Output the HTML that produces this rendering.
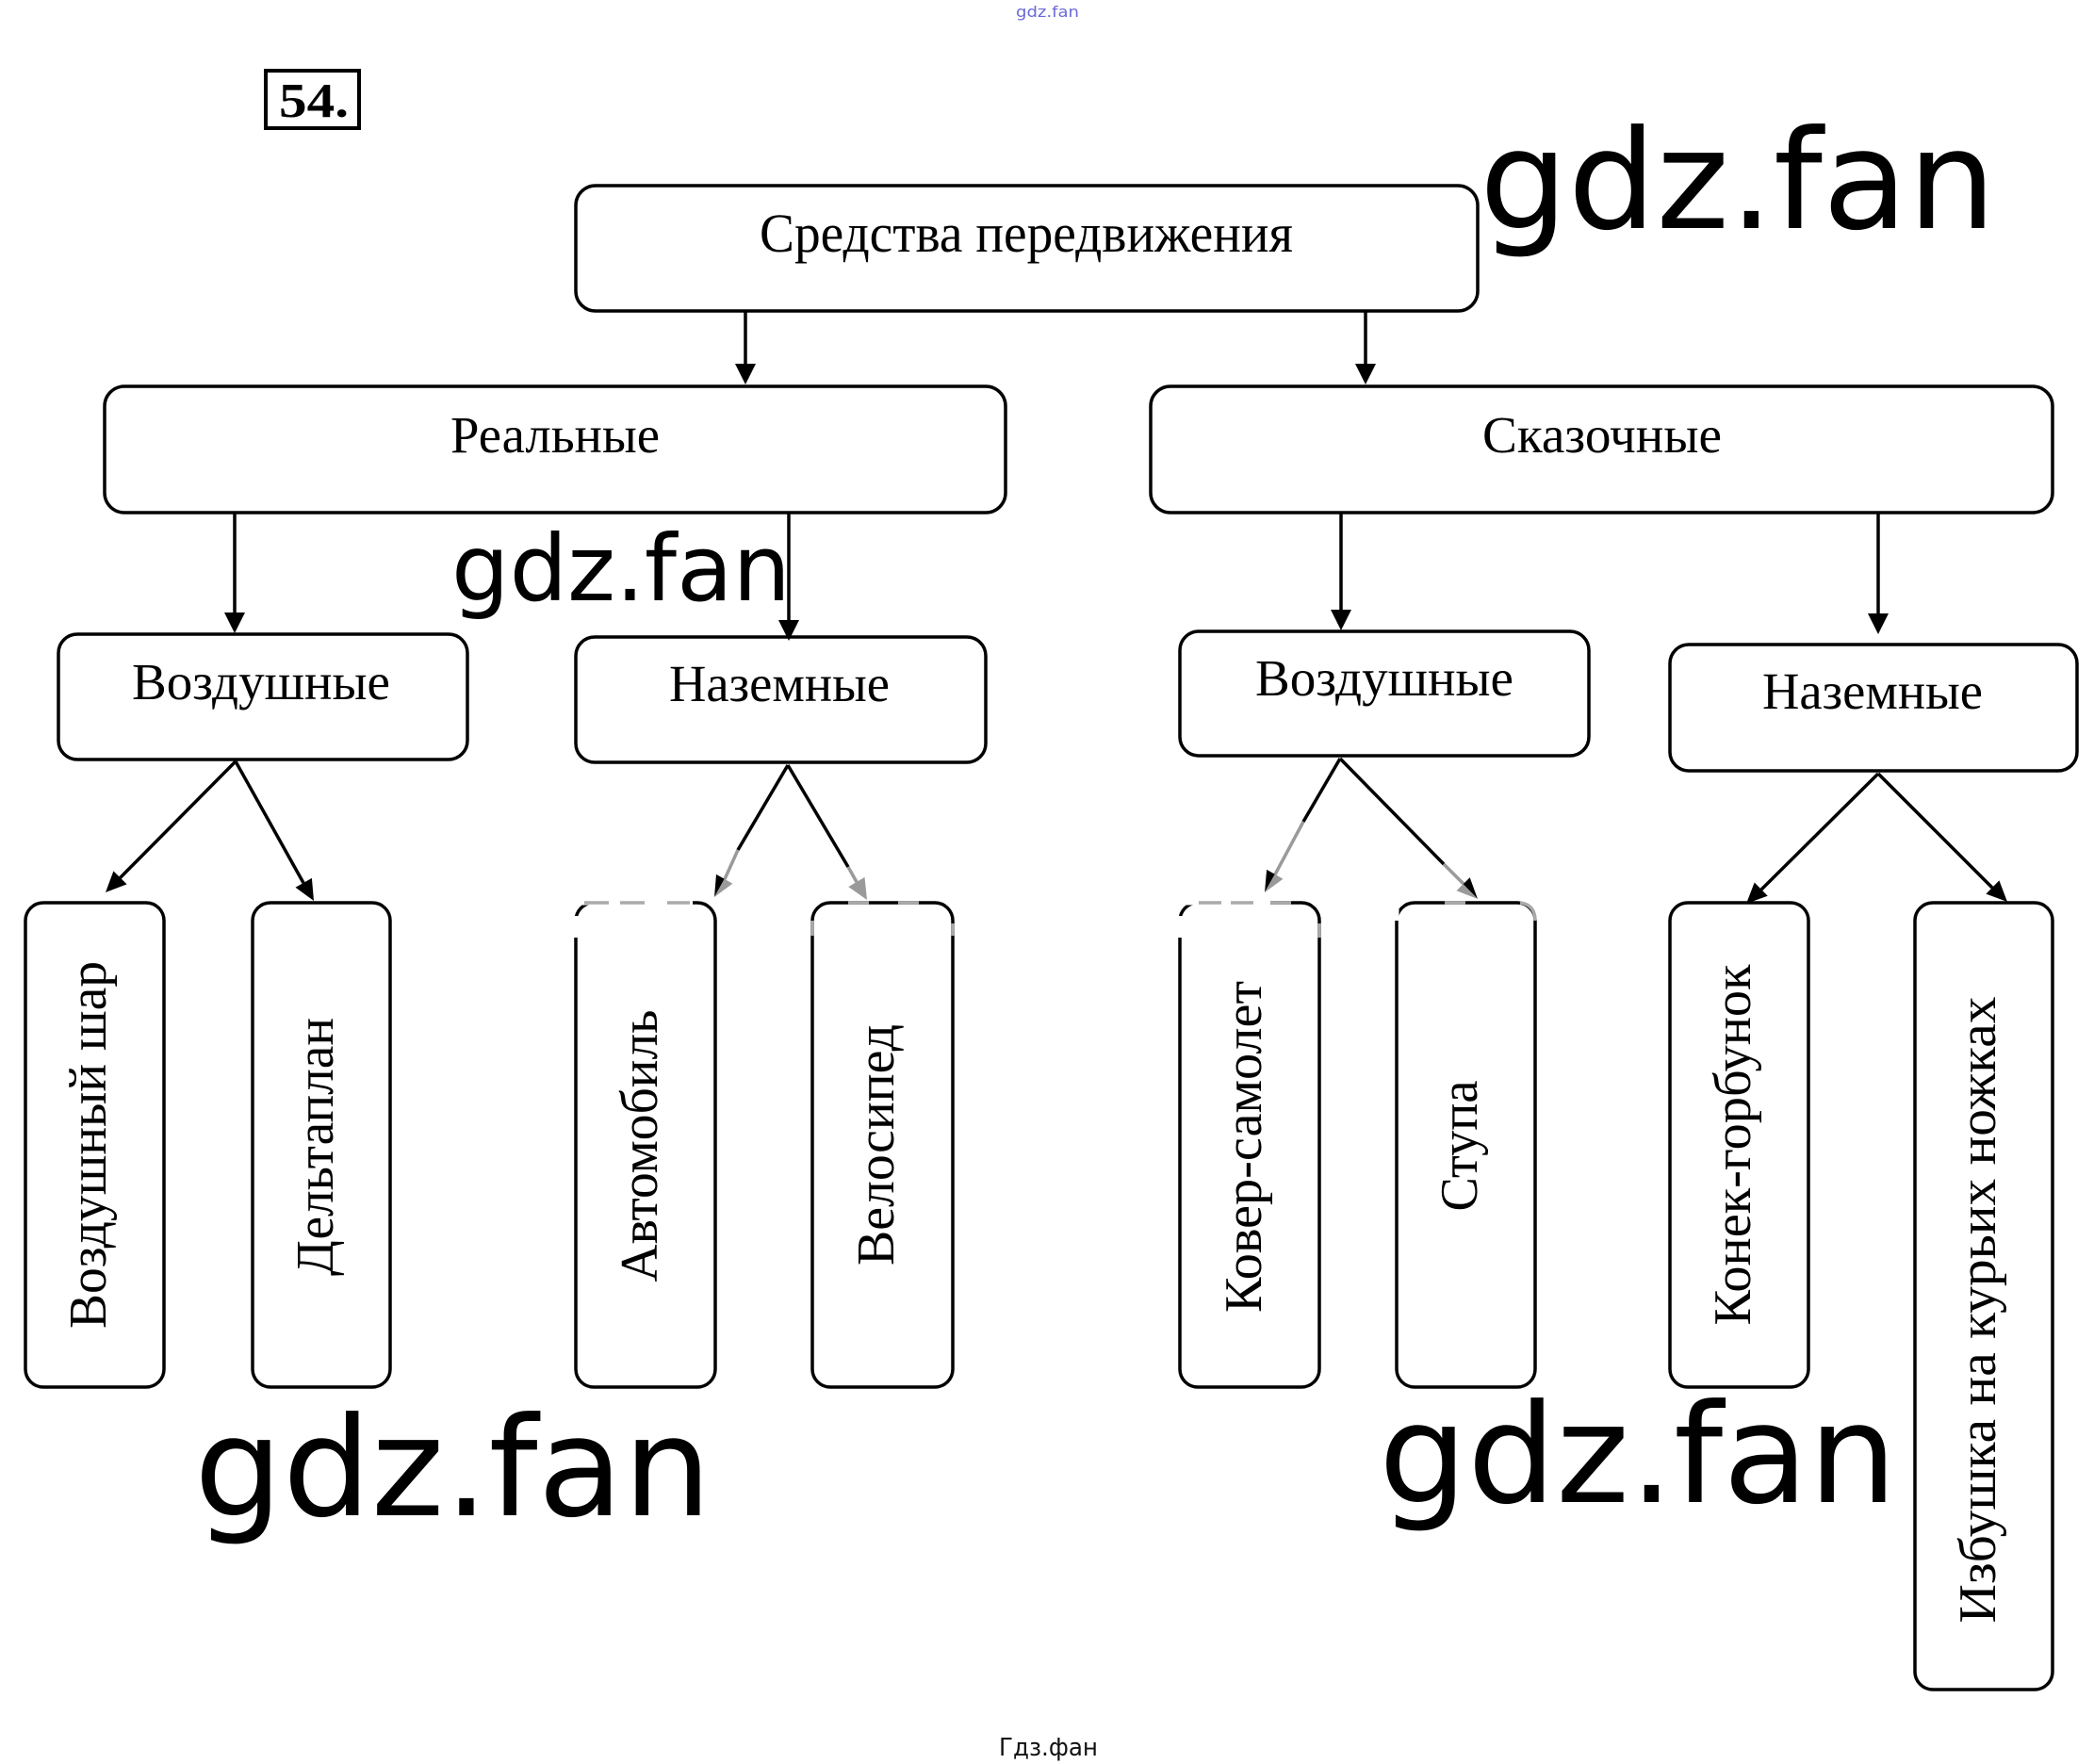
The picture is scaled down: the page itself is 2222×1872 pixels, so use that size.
<!DOCTYPE html>
<html>
<head>
<meta charset="utf-8">
<style>
html,body{margin:0;padding:0;background:#fff;}
svg{display:block;}
.s{font-family:"Liberation Serif","Noto Serif CJK SC",serif;fill:#000;}
.w{font-family:"DejaVu Sans","Liberation Sans",sans-serif;fill:#000;}
</style>
</head>
<body>
<svg width="2222" height="1872" viewBox="0 0 2222 1872" xmlns="http://www.w3.org/2000/svg">
<rect x="0" y="0" width="2222" height="1872" fill="#fff"/>

<!-- tiny top watermark -->
<text class="w" x="1078" y="18" font-size="16" textLength="67" lengthAdjust="spacingAndGlyphs" style="fill:#6a6ad8">gdz.fan</text>

<!-- 54. -->
<rect x="282" y="75" width="99" height="61" fill="none" stroke="#000" stroke-width="4"/>
<text class="s" x="296" y="124" font-size="52" font-weight="bold" textLength="74" lengthAdjust="spacingAndGlyphs">54.</text>

<g fill="none" stroke="#000" stroke-width="3.5">
  <!-- level boxes -->
  <rect x="611" y="197" width="957" height="133" rx="21"/>
  <rect x="111" y="410" width="956" height="134" rx="21"/>
  <rect x="1221" y="410" width="957" height="134" rx="21"/>
  <rect x="62" y="673" width="434" height="133" rx="20"/>
  <rect x="611" y="676" width="435" height="133" rx="20"/>
  <rect x="1252" y="670" width="434" height="132" rx="20"/>
  <rect x="1772" y="684" width="432" height="134" rx="20"/>
  <!-- vertical boxes -->
  <rect x="27" y="958" width="147" height="514" rx="19"/>
  <rect x="268" y="958" width="146" height="514" rx="19"/>
  <rect x="611" y="958" width="148" height="514" rx="19"/>
  <rect x="862" y="958" width="149" height="514" rx="19"/>
  <rect x="1252" y="958" width="148" height="514" rx="19"/>
  <rect x="1482" y="958" width="147" height="514" rx="19"/>
  <rect x="1772" y="958" width="147" height="514" rx="19"/>
  <rect x="2032" y="958" width="146" height="835" rx="19"/>

  <!-- vertical connectors -->
  <line x1="791" y1="330" x2="791" y2="390"/>
  <line x1="1449" y1="330" x2="1449" y2="390"/>
  <line x1="249" y1="544" x2="249" y2="654"/>
  <line x1="837" y1="544" x2="837" y2="662"/>
  <line x1="1423" y1="544" x2="1423" y2="651"/>
  <line x1="1993" y1="544" x2="1993" y2="655"/>

  <!-- diagonal connectors (black parts) -->
  <line x1="250" y1="808" x2="127" y2="932"/>
  <line x1="250" y1="808" x2="322" y2="937"/>
  <line x1="836" y1="812" x2="783" y2="902"/>
  <line x1="836" y1="812" x2="900" y2="920"/>
  <line x1="1422" y1="805" x2="1383" y2="872"/>
  <line x1="1422" y1="805" x2="1532" y2="917"/>
  <line x1="1993" y1="821" x2="1869" y2="944"/>
  <line x1="1993" y1="821" x2="2114" y2="942"/>
</g>

<!-- grey parts of diagonals -->
<g fill="none" stroke="#9a9a9a" stroke-width="3.5">
  <line x1="783" y1="902" x2="769" y2="933"/>
  <line x1="900" y1="920" x2="909" y2="936"/>
  <line x1="1383" y1="872" x2="1353" y2="928"/>
  <line x1="1532" y1="917" x2="1553" y2="938"/>
</g>

<!-- arrowheads -->
<g fill="#000" stroke="none">
  <polygon points="791,408 780,386 802,386"/>
  <polygon points="1449,408 1438,386 1460,386"/>
  <polygon points="249,672 238,650 260,650"/>
  <polygon points="837,680 826,658 848,658"/>
  <polygon points="1423,669 1412,647 1434,647"/>
  <polygon points="1993,673 1982,651 2004,651"/>
  <polygon points="112,947 120.4,924.4 134.6,938.4"/>
  <polygon points="333,956 313.5,941.7 330.9,931.9"/>
  <polygon points="758,952 760,927.9 768.7,932.8"/>
  <polygon points="1342,947 1344.1,922.9 1352.8,927.8"/>
  <polygon points="1568,954 1552.6,938.3 1559.7,931.3"/>
  <polygon points="1853,959 1861.7,936.5 1875.7,950.7"/>
  <polygon points="2130,957 2107.4,948.6 2121.4,934.4"/>
</g>
<g fill="#9a9a9a" stroke="none">
  <polygon points="758,952 768.7,932.8 777.4,937.7"/>
  <polygon points="920,955 900.3,941.1 917.5,930.9"/>
  <polygon points="1342,947 1352.8,927.8 1361.5,932.7"/>
  <polygon points="1568,954 1545.5,945.3 1552.6,938.3"/>
</g>

<!-- top border artifacts (white gaps + grey dashes) -->
<g stroke-width="5" fill="none">
  <!-- Автомобиль -->
  <line x1="614" y1="958" x2="735" y2="958" stroke="#fff"/>
  <line x1="611" y1="972" x2="611" y2="995" stroke="#fff"/>
  <line x1="620" y1="958" x2="646" y2="958" stroke="#aaa" stroke-width="3.5"/>
  <line x1="658" y1="958" x2="684" y2="958" stroke="#aaa" stroke-width="3.5"/>
  <line x1="708" y1="958" x2="732" y2="958" stroke="#aaa" stroke-width="3.5"/>
  <!-- Велосипед -->
  <line x1="900" y1="958" x2="922" y2="958" stroke="#aaa" stroke-width="3.5"/>
  <line x1="953" y1="958" x2="975" y2="958" stroke="#aaa" stroke-width="3.5"/>
  <line x1="862" y1="977" x2="862" y2="993" stroke="#aaa" stroke-width="3.5"/>
  <line x1="1011" y1="980" x2="1011" y2="993" stroke="#aaa" stroke-width="3.5"/>
  <!-- Ковер-самолет -->
  <line x1="1255" y1="958" x2="1348" y2="958" stroke="#fff"/>
  <line x1="1252" y1="972" x2="1252" y2="995" stroke="#fff"/>
  <line x1="1272" y1="958" x2="1296" y2="958" stroke="#aaa" stroke-width="3.5"/>
  <line x1="1306" y1="958" x2="1330" y2="958" stroke="#aaa" stroke-width="3.5"/>
  <line x1="1348" y1="958" x2="1370" y2="958" stroke="#aaa" stroke-width="3.5"/>
  <line x1="1400" y1="980" x2="1400" y2="995" stroke="#aaa" stroke-width="3.5"/>
  <!-- Ступа -->
  <line x1="1533" y1="958" x2="1555" y2="958" stroke="#aaa" stroke-width="3.5"/>
  <line x1="1482" y1="965" x2="1482" y2="977" stroke="#fff"/>
  <path d="M1613 958 Q1629 960 1629 977" stroke="#aaa" stroke-width="3.5"/>
</g>

<!-- horizontal labels -->
<text class="s" x="806" y="267" font-size="58" textLength="566" lengthAdjust="spacingAndGlyphs">Средства передвижения</text>
<text class="s" x="478" y="480" font-size="55" textLength="222" lengthAdjust="spacingAndGlyphs">Реальные</text>
<text class="s" x="1573" y="480" font-size="55" textLength="254" lengthAdjust="spacingAndGlyphs">Сказочные</text>
<text class="s" x="140" y="742" font-size="55" textLength="274" lengthAdjust="spacingAndGlyphs">Воздушные</text>
<text class="s" x="710" y="744" font-size="55" textLength="234" lengthAdjust="spacingAndGlyphs">Наземные</text>
<text class="s" x="1332" y="738" font-size="55" textLength="274" lengthAdjust="spacingAndGlyphs">Воздушные</text>
<text class="s" x="1870" y="752" font-size="55" textLength="234" lengthAdjust="spacingAndGlyphs">Наземные</text>

<!-- vertical labels -->
<text class="s" font-size="56" text-anchor="middle" transform="translate(112,1215) rotate(-90)" textLength="390" lengthAdjust="spacingAndGlyphs">Воздушный шар</text>
<text class="s" font-size="56" text-anchor="middle" transform="translate(353,1217) rotate(-90)" textLength="274" lengthAdjust="spacingAndGlyphs">Дельтаплан</text>
<text class="s" font-size="56" text-anchor="middle" transform="translate(697,1216) rotate(-90)" textLength="289" lengthAdjust="spacingAndGlyphs">Автомобиль</text>
<text class="s" font-size="56" text-anchor="middle" transform="translate(948,1215) rotate(-90)" textLength="256" lengthAdjust="spacingAndGlyphs">Велосипед</text>
<text class="s" font-size="56" text-anchor="middle" transform="translate(1338,1217) rotate(-90)" textLength="352" lengthAdjust="spacingAndGlyphs">Ковер-самолет</text>
<text class="s" font-size="56" text-anchor="middle" transform="translate(1567,1216) rotate(-90)" textLength="139" lengthAdjust="spacingAndGlyphs">Ступа</text>
<text class="s" font-size="56" text-anchor="middle" transform="translate(1857,1215) rotate(-90)" textLength="383" lengthAdjust="spacingAndGlyphs">Конек-горбунок</text>
<text class="s" font-size="56" text-anchor="middle" transform="translate(2117,1390) rotate(-90)" textLength="665" lengthAdjust="spacingAndGlyphs">Избушка на курьих ножках</text>

<!-- big watermarks -->
<text class="w" x="1570" y="242" font-size="146" textLength="548" lengthAdjust="spacingAndGlyphs">gdz.fan</text>
<text class="w" x="479" y="637" font-size="97" textLength="360" lengthAdjust="spacingAndGlyphs">gdz.fan</text>
<text class="w" x="206" y="1608" font-size="146" textLength="549" lengthAdjust="spacingAndGlyphs">gdz.fan</text>
<text class="w" x="1463" y="1594" font-size="146" textLength="550" lengthAdjust="spacingAndGlyphs">gdz.fan</text>

<!-- bottom caption -->
<text class="w" x="1060" y="1863" font-size="26" textLength="105" lengthAdjust="spacingAndGlyphs" style="fill:#111">Гдз.фан</text>
</svg>
</body>
</html>
